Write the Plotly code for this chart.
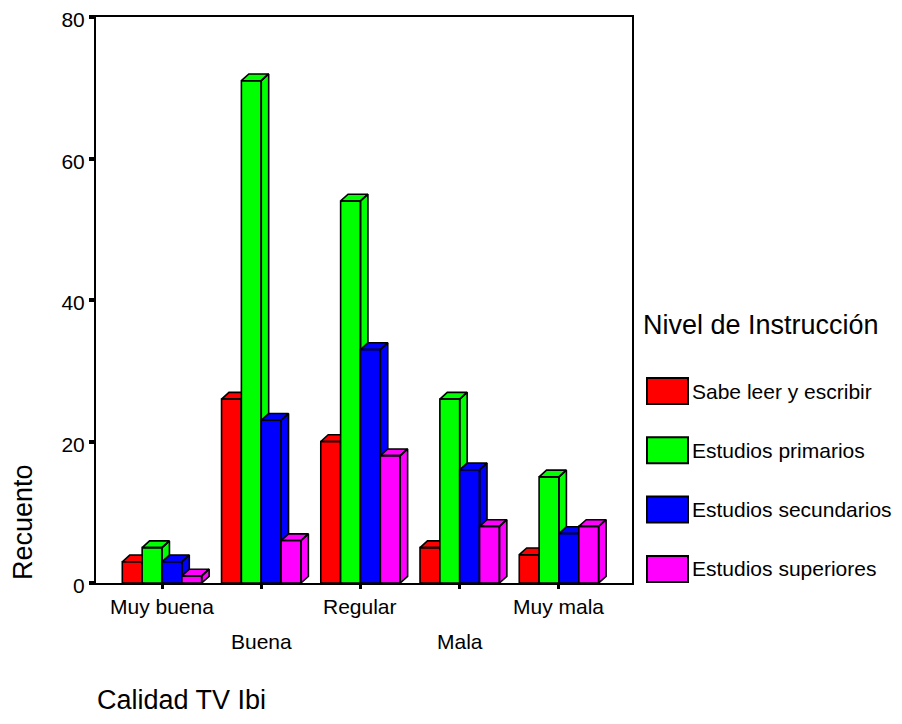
import plotly.graph_objects as go

# ── Data ────────────────────────────────────────────────────────────────────
categories = ["Muy buena", "Buena", "Regular", "Mala", "Muy mala"]
series_names = ["Sabe leer y escribir", "Estudios primarios",
                "Estudios secundarios", "Estudios superiores"]
sabe_leer = [3, 26, 20, 5, 4]
primarios = [5, 71, 54, 26, 15]
secundarios = [3, 23, 33, 16, 7]
superiores = [1, 6, 18, 8, 8]
series_values = [sabe_leer, primarios, secundarios, superiores]

# ── Style ───────────────────────────────────────────────────────────────────
_COLORS = ["#FF0000", "#00FF00", "#0000FF", "#FF00FF"]
_FONT = "Liberation Sans, Arial, sans-serif"
_BAR_W = 0.2      # front face width (category units)
_DX = 0.075       # depth offset, x (category units)
_DY = 0.95        # depth offset, y (count units)

# page has an 8px body margin, so the figure is 16px smaller than the window
_PAGE = 8
W, H = 902 - 2 * _PAGE, 724 - 2 * _PAGE
PLOT_X0, PLOT_X1, PLOT_Y0, PLOT_Y1 = 96, 632, 17, 583   # in window pixels
L, T = PLOT_X0 - _PAGE, PLOT_Y0 - _PAGE
R, B = W - (PLOT_X1 - _PAGE), H - (PLOT_Y1 - _PAGE)
PW, PH = PLOT_X1 - PLOT_X0, PLOT_Y1 - PLOT_Y0


def px_x(p):
    return (p - PLOT_X0) / PW


def px_y(p):
    return (PLOT_Y1 - p) / PH


fig = go.Figure()

# 3D bars, drawn back-to-front so each front face hides its neighbour's side
for c in range(len(categories)):
    for i, vals in enumerate(series_values):
        v = vals[c]
        left = c + (i - 1.5) * _BAR_W - _BAR_W / 2
        right = left + _BAR_W
        side_x = [right, right + _DX, right + _DX, right, right, None]
        side_y = [0, _DY, v + _DY, v, 0, None]
        top_x = [left, right, right + _DX, left + _DX, left, None]
        top_y = [v, v, v + _DY, v + _DY, v, None]
        front_x = [left, right, right, left, left]
        front_y = [0, 0, v, v, 0]
        fig.add_trace(go.Scatter(
            x=side_x + top_x + front_x, y=side_y + top_y + front_y,
            mode="lines", fill="toself", fillcolor=_COLORS[i],
            line=dict(color="black", width=1.6),
            name=series_names[i], showlegend=False,
            hoverinfo="skip"))

# category labels, staggered on two rows
for c, lab in enumerate(categories):
    fig.add_annotation(x=c, y=px_y(606) if c % 2 == 0 else px_y(641),
                       xref="x", yref="paper", text=lab, showarrow=False,
                       xanchor="center", yanchor="middle",
                       font=dict(size=21, color="black", family=_FONT))

# axis titles
fig.add_annotation(x=px_x(96), y=px_y(724 - _PAGE), xref="paper", yref="paper",
                   text="Calidad TV Ibi", showarrow=False,
                   xanchor="left", yanchor="bottom", borderpad=0,
                   font=dict(size=27, color="black", family=_FONT))
fig.add_annotation(x=px_x(23), y=px_y(522), xref="paper", yref="paper",
                   text="Recuento", showarrow=False, textangle=-90,
                   xanchor="center", yanchor="middle",
                   font=dict(size=27, color="black", family=_FONT))

# legend drawn by hand (large swatches)
fig.add_annotation(x=px_x(641), y=px_y(325), xref="paper", yref="paper",
                   text="Nivel de Instrucción", showarrow=False,
                   xanchor="left", yanchor="middle",
                   font=dict(size=27, color="black", family=_FONT))
for i, name in enumerate(series_names):
    y0 = 378 + i * 59.3
    fig.add_shape(type="rect", xref="paper", yref="paper",
                  x0=px_x(647), x1=px_x(688), y0=px_y(y0 + 26), y1=px_y(y0),
                  fillcolor=_COLORS[i], line=dict(color="black", width=2))
    fig.add_annotation(x=px_x(690), y=px_y(y0 + 13), xref="paper", yref="paper",
                       text=name, showarrow=False,
                       xanchor="left", yanchor="middle",
                       font=dict(size=21, color="black", family=_FONT))

fig.update_layout(
    width=W, height=H,
    margin=dict(l=L, r=R, t=T, b=B, autoexpand=False),
    paper_bgcolor="white", plot_bgcolor="white",
    showlegend=False,
    font=dict(family=_FONT, color="black"),
    xaxis=dict(range=[-0.665, 4.736], tickvals=list(range(len(categories))),
               showticklabels=False, ticks="outside", ticklen=4, tickwidth=3,
               tickcolor="black", showgrid=False, zeroline=False,
               automargin=False,
               showline=True, linecolor="black", linewidth=2, mirror=True),
    yaxis=dict(range=[0, 80], tickvals=[0, 20, 40, 60, 80],
               ticks="outside", ticklen=5, tickwidth=4, tickcolor="black",
               tickfont=dict(size=21, color="black", family=_FONT),
               ticklabeloverflow="allow", ticklabelshift=3, automargin=False,
               showgrid=False, zeroline=False,
               showline=True, linecolor="black", linewidth=2, mirror=True),
)

fig.write_html("out.html")
